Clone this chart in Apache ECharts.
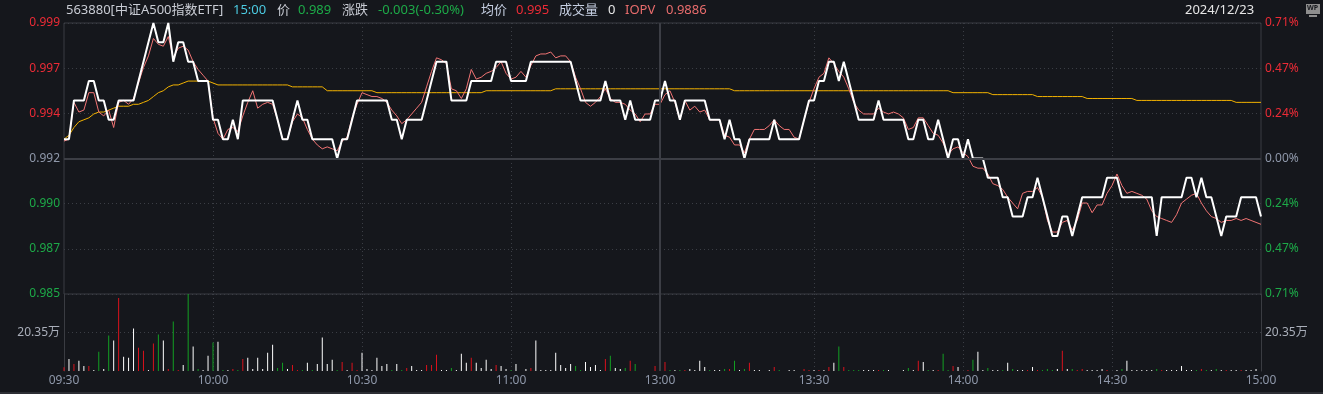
<!DOCTYPE html>
<html>
<head>
<meta charset="utf-8">
<script src="https://cdn.jsdelivr.net/npm/echarts@6/dist/echarts.min.js"></script>
<style>
html,body{margin:0;padding:0;background:#15171c;}
#chart{width:1323px;height:394px;}
</style>
</head>
<body>
<div id="chart"></div>
<script>
// ---------- data ----------
const preClose = 0.992;
const tickIndex = [0, 30, 60, 90, 120, 151, 181, 211, 241];
const tickLabels = ['09:30', '10:00', '10:30', '11:00', '13:00', '13:30', '14:00', '14:30', '15:00'];

// last price per minute
const price = [
  0.993,0.993,0.995,0.995,0.995,0.996,0.996,0.995,0.995,0.994,
  0.994,0.995,0.995,0.995,0.995,0.996,0.997,0.998,0.999,0.998,
  0.998,0.999,0.997,0.998,0.998,0.997,0.997,0.996,0.996,0.996,
  0.994,0.994,0.993,0.993,0.994,0.993,0.995,0.995,0.995,0.995,
  0.995,0.995,0.995,0.994,0.993,0.993,0.994,0.995,0.994,0.994,
  0.993,0.993,0.993,0.993,0.993,0.992,0.993,0.993,0.994,0.995,
  0.995,0.995,0.995,0.995,0.995,0.995,0.994,0.994,0.993,0.994,
  0.994,0.994,0.994,0.995,0.996,0.997,0.997,0.997,0.995,0.995,
  0.995,0.995,0.996,0.996,0.996,0.996,0.996,0.997,0.997,0.997,
  0.996,0.996,0.996,0.996,0.997,0.997,0.997,0.997,0.997,0.997,
  0.997,0.997,0.997,0.996,0.995,0.995,0.995,0.995,0.995,0.996,
  0.995,0.995,0.995,0.994,0.995,0.994,0.994,0.994,0.994,0.995,
  0.995,0.996,0.995,0.995,0.994,0.995,0.995,0.995,0.995,0.995,
  0.994,0.994,0.994,0.993,0.994,0.993,0.993,0.992,0.993,0.993,
  0.993,0.993,0.993,0.994,0.993,0.993,0.993,0.993,0.993,0.994,
  0.995,0.995,0.996,0.996,0.997,0.997,0.996,0.997,0.996,0.995,
  0.994,0.994,0.994,0.994,0.995,0.994,0.994,0.994,0.994,0.994,
  0.993,0.993,0.994,0.994,0.993,0.993,0.994,0.993,0.992,0.993,
  0.993,0.992,0.993,0.992,0.992,0.992,0.991,0.991,0.991,0.990,
  0.990,0.989,0.989,0.989,0.990,0.990,0.991,0.990,0.989,0.988,
  0.988,0.989,0.989,0.988,0.989,0.990,0.990,0.990,0.990,0.990,
  0.991,0.991,0.991,0.990,0.990,0.990,0.990,0.990,0.990,0.990,
  0.988,0.990,0.990,0.990,0.990,0.990,0.991,0.991,0.990,0.991,
  0.990,0.990,0.989,0.988,0.989,0.989,0.989,0.990,0.990,0.990,
  0.990,0.989
];

// IOPV per minute
const iopv = [
  0.9929,0.9930,0.9949,0.9944,0.9945,0.9954,0.9954,0.9944,0.9942,0.9945,
  0.9936,0.9949,0.9950,0.9948,0.9951,0.9959,0.9967,0.9973,0.9982,0.9979,
  0.9978,0.9983,0.9972,0.9977,0.9978,0.9976,0.9970,0.9966,0.9963,0.9960,
  0.9941,0.9933,0.9930,0.9935,0.9936,0.9934,0.9942,0.9949,0.9955,0.9946,
  0.9948,0.9949,0.9948,0.9940,0.9930,0.9930,0.9939,0.9943,0.9941,0.9935,
  0.9930,0.9927,0.9925,0.9926,0.9925,0.9924,0.9929,0.9931,0.9941,0.9948,
  0.9954,0.9953,0.9952,0.9952,0.9951,0.9949,0.9945,0.9942,0.9938,0.9940,
  0.9943,0.9946,0.9949,0.9957,0.9965,0.9972,0.9971,0.9969,0.9956,0.9955,
  0.9951,0.9956,0.9966,0.9961,0.9962,0.9964,0.9965,0.9967,0.9970,0.9964,
  0.9961,0.9962,0.9965,0.9962,0.9968,0.9973,0.9974,0.9974,0.9975,0.9972,
  0.9973,0.9973,0.9970,0.9962,0.9956,0.9949,0.9947,0.9949,0.9952,0.9956,
  0.9951,0.9949,0.9949,0.9948,0.9945,0.9943,0.9939,0.9943,0.9943,0.9948,
  0.9948,0.9953,0.9955,0.9949,0.9940,0.9950,0.9945,0.9947,0.9944,0.9945,
  0.9940,0.9940,0.9940,0.9932,0.9931,0.9927,0.9927,0.9923,0.9930,0.9935,
  0.9935,0.9935,0.9937,0.9940,0.9937,0.9935,0.9935,0.9931,0.9930,0.9940,
  0.9949,0.9956,0.9962,0.9964,0.9972,0.9969,0.9965,0.9962,0.9956,0.9949,
  0.9945,0.9943,0.9943,0.9943,0.9946,0.9944,0.9943,0.9944,0.9943,0.9941,
  0.9935,0.9936,0.9941,0.9941,0.9937,0.9933,0.9932,0.9928,0.9922,0.9925,
  0.9926,0.9923,0.9921,0.9916,0.9915,0.9915,0.9912,0.9907,0.9906,0.9904,
  0.9900,0.9897,0.9894,0.9902,0.9903,0.9903,0.9905,0.9900,0.9888,0.9882,
  0.9882,0.9887,0.9888,0.9883,0.9888,0.9897,0.9897,0.9892,0.9896,0.9896,
  0.9902,0.9906,0.9912,0.9906,0.9902,0.9903,0.9902,0.9901,0.9899,0.9893,
  0.9890,0.9889,0.9888,0.9887,0.9891,0.9897,0.9899,0.9901,0.9902,0.9897,
  0.9893,0.9890,0.9889,0.9887,0.9888,0.9888,0.9889,0.9888,0.9889,0.9888,
  0.9887,0.9886
];

// average price per minute
const avgPrice = [
  0.9930,0.9932,0.9936,0.9939,0.9940,0.9941,0.9943,0.9944,0.9944,0.9945,
  0.9946,0.9947,0.9947,0.9947,0.9948,0.9948,0.9949,0.9950,0.9952,0.9954,
  0.9955,0.9957,0.9958,0.9958,0.9959,0.9960,0.9960,0.9960,0.9960,0.9960,
  0.9959,0.9958,0.9958,0.9958,0.9958,0.9958,0.9958,0.9958,0.9958,0.9958,
  0.9958,0.9958,0.9958,0.9958,0.9958,0.9958,0.9957,0.9957,0.9957,0.9957,
  0.9957,0.9957,0.9957,0.9955,0.9955,0.9955,0.9955,0.9955,0.9955,0.9955,
  0.9955,0.9955,0.9955,0.9954,0.9954,0.9954,0.9954,0.9954,0.9954,0.9954,
  0.9954,0.9954,0.9954,0.9954,0.9954,0.9954,0.9954,0.9954,0.9954,0.9954,
  0.9954,0.9954,0.9954,0.9954,0.9954,0.9955,0.9955,0.9955,0.9955,0.9955,
  0.9955,0.9955,0.9955,0.9955,0.9955,0.9955,0.9955,0.9955,0.9955,0.9956,
  0.9956,0.9956,0.9956,0.9956,0.9956,0.9956,0.9956,0.9956,0.9956,0.9956,
  0.9956,0.9956,0.9956,0.9956,0.9956,0.9956,0.9956,0.9956,0.9956,0.9956,
  0.9956,0.9956,0.9956,0.9956,0.9956,0.9956,0.9956,0.9956,0.9956,0.9956,
  0.9956,0.9956,0.9956,0.9956,0.9956,0.9955,0.9955,0.9955,0.9955,0.9955,
  0.9955,0.9955,0.9955,0.9955,0.9955,0.9955,0.9955,0.9955,0.9955,0.9955,
  0.9955,0.9955,0.9955,0.9955,0.9955,0.9955,0.9955,0.9955,0.9955,0.9955,
  0.9955,0.9955,0.9955,0.9955,0.9955,0.9955,0.9955,0.9955,0.9955,0.9955,
  0.9955,0.9955,0.9955,0.9955,0.9955,0.9955,0.9955,0.9955,0.9955,0.9954,
  0.9954,0.9954,0.9954,0.9954,0.9954,0.9954,0.9954,0.9953,0.9953,0.9953,
  0.9953,0.9953,0.9953,0.9953,0.9953,0.9953,0.9952,0.9952,0.9952,0.9952,
  0.9952,0.9952,0.9952,0.9952,0.9952,0.9952,0.9951,0.9951,0.9951,0.9951,
  0.9951,0.9951,0.9951,0.9951,0.9951,0.9951,0.9950,0.9950,0.9950,0.9950,
  0.9950,0.9950,0.9950,0.9950,0.9950,0.9950,0.9950,0.9950,0.9950,0.9950,
  0.9950,0.9950,0.9950,0.9950,0.9950,0.9950,0.9949,0.9949,0.9949,0.9949,
  0.9949,0.9949
];

// volume per minute (万)
const volume = [
  2.0,6.4,3.7,5.4,2.7,2.7,0.5,10.2,1.1,18.7,
  16.1,38.6,7.5,7.0,22.5,12.3,10.7,0.5,14.5,19.3,
  16.1,1.1,26.2,0.5,3.2,40.7,12.9,1.1,0.5,8.0,
  15.0,15.5,0.5,0.5,1.1,0.5,6.4,7.0,1.1,7.0,
  1.1,9.6,13.9,1.6,4.3,1.1,3.2,0.5,0.5,4.3,
  0.5,3.7,17.7,3.7,5.9,0.5,4.8,0.5,4.3,0.5,
  9.6,1.1,0.5,7.0,2.7,3.7,0.5,3.7,0.5,1.6,
  2.7,0.5,0.5,3.2,3.2,8.6,0.5,0.5,1.6,0.5,
  9.1,4.3,7.0,4.3,1.6,5.9,1.1,3.2,2.7,1.1,
  0.5,3.7,0,1.1,1.6,16.1,0.5,0.5,0.5,9.6,
  3.2,1.6,3.7,2.7,0.5,4.8,2.1,3.2,0.5,6.4,
  8.0,1.6,1.1,1.6,5.4,3.7,0,0,0,2.7,
  0,4.8,0.5,0.5,0.5,0.5,1.1,0.5,5.4,2.1,
  0.5,0.5,0.5,1.1,1.1,5.4,0.5,1.1,4.3,0.5,
  0.5,0,0.5,2.1,0.5,0,0.5,0.5,0,1.1,
  0.5,0.5,0.5,0.5,2.1,4.3,12.9,2.1,0.5,0.5,
  0.5,0.5,0.5,0.5,0.5,0.5,0.5,0,0,0.5,
  1.6,0.5,5.4,4.8,0.5,0.5,0.5,9.1,0.5,2.7,
  2.1,0,0.5,5.9,10.2,0.5,1.6,0.5,0.5,0.5,
  4.3,1.1,0.5,0.5,0.5,2.1,0.5,0.5,1.1,0.5,
  1.1,10.7,1.1,1.1,0.5,1.1,0.5,0.5,0.5,1.1,
  0.5,0,0.5,1.1,5.4,0.5,0.5,0.5,0.5,0.5,
  1.1,0.5,0.5,0.5,0.5,2.7,0.5,0.5,0.5,1.1,
  0.5,0.5,1.1,0.5,0.5,0.5,0.5,0.5,0.5,0.5,
  1.1,0
];

// bar direction: r = up, g = down, w = flat
const volumeDir = [
  'r','w','r','w','w','r','w','g','w','g',
  'w','r','w','w','w','r','r','w','r','g',
  'w','r','g','r','w','g','w','g','w','w',
  'g','w','g','w','r','g','r','w','w','w',
  'w','w','w','g','g','w','r','r','g','w',
  'g','w','w','w','w','g','r','w','r','r',
  'w','w','w','w','w','w','g','w','g','r',
  'w','w','w','r','r','r','w','w','g','w',
  'w','w','r','w','w','w','w','r','w','w',
  'g','w','w','w','r','w','w','w','w','w',
  'w','w','w','g','g','w','w','w','w','r',
  'g','w','w','g','r','g','w','w','w','r',
  'w','r','g','w','g','r','w','w','w','w',
  'g','w','w','g','r','g','w','g','r','w',
  'w','w','w','r','g','w','w','w','w','r',
  'r','w','r','w','r','w','g','r','g','g',
  'g','w','w','w','r','g','w','w','w','w',
  'g','w','r','w','g','w','r','g','g','r',
  'w','w','r','g','w','w','g','w','w','g',
  'w','g','w','w','r','w','r','g','g','g',
  'w','r','w','g','r','r','w','w','w','w',
  'r','w','w','g','w','w','w','w','w','w',
  'g','r','w','w','w','w','w','w','g','r',
  'g','w','g','w','r','w','w','r','w','w',
  'w','w'
];

// ---------- build ----------
function buildTimes() {
  const out = [];
  const push = (h0, m0, h1, m1) => {
    for (let t = h0 * 60 + m0; t <= h1 * 60 + m1; t++) {
      const h = Math.floor(t / 60), m = t % 60;
      out.push((h < 10 ? '0' : '') + h + ':' + (m < 10 ? '0' : '') + m);
    }
  };
  push(9, 30, 11, 30);
  push(13, 0, 15, 0);
  return out;
}
const times = buildTimes();
const toPct = p => +(((p / preClose) - 1) * 100).toFixed(5);

const RED = '#ec2b36', GREEN = '#1daa48', GRAY = '#8f98aa';
const FONT = '"Noto Sans", "Noto Sans CJK SC", sans-serif';
const dirColor = { r: '#d9121c', g: '#13a023', w: '#ffffff' };
const gridLine = { color: '#3b3e45', type: [1, 3], width: 1 };
const borderColor = '#3a3c42';
const splitIdx = [30, 60, 90, 151, 181, 211];
const pMax = 0.7056, pInt = 0.2352;

const chart = echarts.init(document.getElementById('chart'), null, { renderer: 'canvas' });

const headerItems = [
  ['563880[中证A500指数ETF]', 66, '#c9ccd4'],
  ['15:00', 233, '#4ccbe2'],
  ['价', 277, '#c9ccd4'],
  ['0.989', 298, GREEN],
  ['涨跌', 342, '#c9ccd4'],
  ['-0.003(-0.30%)', 378, GREEN],
  ['均价', 481, '#c6cfe2'],
  ['0.995', 516, RED],
  ['成交量', 559, '#c6cfe2'],
  ['0', 608, '#e8e8e8'],
  ['IOPV', 625, '#e86c6c'],
  ['0.9886', 666, '#e86c6c'],
  ['2024/12/23', 1185, '#e6e6e6']
];

const graphics = headerItems.map(([t, x, c]) => ({
  type: 'text', left: x, top: 4, silent: true,
  style: { text: t, fill: c, font: '13px ' + FONT }
}));
// WP icon
graphics.push({ type: 'rect', shape: { x: 1306, y: 4, width: 14, height: 10 }, style: { fill: '#8e8e8e' }, silent: true });
graphics.push({ type: 'text', left: 1307, top: 5, style: { text: 'WP', fill: '#15171c', font: 'bold 7px ' + FONT }, silent: true });
graphics.push({ type: 'rect', shape: { x: 1309, y: 15, width: 8, height: 2 }, style: { fill: '#8e8e8e' }, silent: true });
// bottom frame line
graphics.push({ type: 'rect', shape: { x: 0, y: 392, width: 1323, height: 2 }, style: { fill: '#2c2e34' }, silent: true });

const option = {
  backgroundColor: '#15171c',
  animation: false,
  textStyle: { fontFamily: FONT },
  graphic: graphics,
  grid: [
    { left: 64, right: 62, top: 23, height: 271, show: true, borderColor: borderColor, borderWidth: 1, backgroundColor: 'transparent' },
    { left: 64, right: 62, top: 294, height: 77 }
  ],
  xAxis: [
    {
      type: 'category', gridIndex: 0, data: times, boundaryGap: false,
      axisLine: { show: false }, axisTick: { show: false }, axisLabel: { show: false },
      splitLine: { show: true, interval: (i) => splitIdx.includes(i), lineStyle: gridLine }
    },
    {
      type: 'category', gridIndex: 1, data: times, boundaryGap: false,
      axisLine: { show: false }, axisTick: { show: false },
      axisLabel: {
        show: true, interval: (i) => tickIndex.includes(i), margin: 4,
        color: '#8f98aa', fontSize: 12, fontFamily: FONT,
        formatter: (v, i) => { const k = tickIndex.indexOf(i); return k >= 0 ? tickLabels[k] : ''; }
      },
      splitLine: { show: true, interval: (i) => splitIdx.includes(i), lineStyle: gridLine }
    }
  ],
  yAxis: [
    {
      type: 'value', gridIndex: 0, position: 'left', min: -pMax, max: pMax, interval: pInt,
      axisLine: { show: false }, axisTick: { show: false },
      axisLabel: {
        margin: 4, fontSize: 12, fontFamily: FONT,
        formatter: (v) => (preClose * (1 + v / 100)).toFixed(3),
        color: (v) => { v = parseFloat(v); return v > 1e-6 ? RED : (v < -1e-6 ? GREEN : GRAY); }
      },
      splitLine: { show: true, lineStyle: gridLine }
    },
    {
      type: 'value', gridIndex: 0, position: 'right', min: -pMax, max: pMax, interval: pInt,
      axisLine: { show: false }, axisTick: { show: false },
      axisLabel: {
        margin: 4, fontSize: 12, fontFamily: FONT,
        formatter: (v) => Math.abs(v).toFixed(2) + '%',
        color: (v) => { v = parseFloat(v); return v > 1e-6 ? RED : (v < -1e-6 ? GREEN : GRAY); }
      },
      splitLine: { show: false }
    },
    {
      type: 'value', gridIndex: 1, position: 'left', min: 0, max: 40.7, interval: 20.35,
      axisLine: { show: true, lineStyle: { color: borderColor, width: 1 } }, axisTick: { show: false },
      axisLabel: {
        margin: 4, fontSize: 12, fontFamily: FONT, color: '#a9aeb9',
        showMinLabel: false, showMaxLabel: false,
        formatter: (v) => (Math.abs(v - 20.35) < 1e-6 ? '20.35万' : '')
      },
      splitLine: { show: true, lineStyle: { color: ['transparent', '#3b3e45', 'transparent'], type: [1, 3], width: 1 } }
    },
    {
      type: 'value', gridIndex: 1, position: 'right', min: 0, max: 40.7, interval: 20.35,
      axisLine: { show: true, lineStyle: { color: borderColor, width: 1 } }, axisTick: { show: false },
      axisLabel: {
        margin: 4, fontSize: 12, fontFamily: FONT, color: '#a9aeb9',
        showMinLabel: false, showMaxLabel: false,
        formatter: (v) => (Math.abs(v - 20.35) < 1e-6 ? '20.35万' : '')
      },
      splitLine: { show: false }
    }
  ],
  series: [
    {
      name: '均价', type: 'line', xAxisIndex: 0, yAxisIndex: 0, z: 2,
      data: avgPrice.map(toPct), symbol: 'none', smooth: false,
      lineStyle: { color: '#f2b200', width: 1 },
      markLine: {
        silent: true, symbol: ['none', 'none'], label: { show: false }, animation: false,
        data: [
          { yAxis: 0, lineStyle: { color: '#3c3e45', width: 2, type: 'solid' } },
          { xAxis: 120, lineStyle: { color: '#3c3e45', width: 2, type: 'solid' } }
        ]
      }
    },
    {
      name: 'IOPV', type: 'line', xAxisIndex: 0, yAxisIndex: 0, z: 3,
      data: iopv.map(toPct), symbol: 'none',
      lineStyle: { color: '#f27474', width: 1 }
    },
    {
      name: '价', type: 'line', xAxisIndex: 0, yAxisIndex: 0, z: 4,
      data: price.map(toPct), symbol: 'none',
      lineStyle: { color: '#ffffff', width: 2 }
    },
    {
      name: '成交量', type: 'bar', xAxisIndex: 1, yAxisIndex: 2, barWidth: 1,
      data: volume.map((v, i) => ({ value: v, itemStyle: { color: dirColor[volumeDir[i]] } })),
      markLine: {
        silent: true, symbol: ['none', 'none'], label: { show: false }, animation: false,
        data: [{ xAxis: 120, lineStyle: { color: '#3c3e45', width: 2, type: 'solid' } }]
      }
    }
  ]
};
chart.setOption(option);
</script>
</body>
</html>
